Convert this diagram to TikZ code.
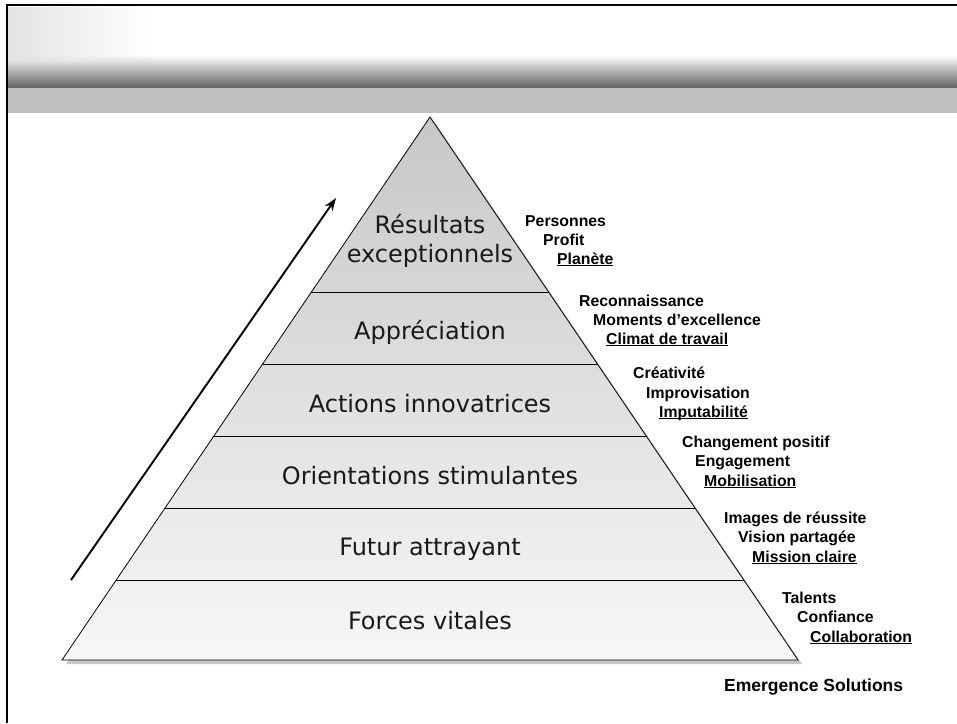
\documentclass[tikz,border=0pt]{standalone}
\usepackage{fontspec}
\setmainfont{DejaVu Sans}
\newfontfamily\arialfont{Liberation Sans}
\newcommand\ulword[1]{\setbox0\hbox{#1}\rlap{\rule[-2.4pt]{\wd0}{1.3pt}}\box0}
\usetikzlibrary{arrows.meta, shadows, fadings}
\tikzset{
	level/.style={font=\fontsize{24}{28.5}\selectfont, align=center, text=black!90, inner sep=0pt},
	word/.style={font=\arialfont\bfseries\fontsize{15.8}{18}\selectfont, anchor=base west, inner sep=0pt},
	layer/.style={draw, line width=0.8pt},
	every edge/.style={draw,-{Stealth[length=4.5mm,width=3.2mm]},line width=1.9pt}
}

\begin{document}
\begin{tikzpicture}[x=1pt,y=-1pt]
\useasboundingbox (0,0) rectangle (957,723);
% header
\shade[top color=white, bottom color=black!62] (7,55) rectangle (957,88);
\fill[black!11, path fading=east] (7,7) rectangle (150,62);
\fill[black!25] (7,88) rectangle (957,113);
\draw[line width=2.5pt] (7,723) -- (7,5) -- (957,5);
% pyramid
\coordinate (apex) at (430,117);
\coordinate (bl) at (62,660);
\coordinate (br) at (798,660);
\path[drop shadow={shadow xshift=4pt, shadow yshift=-4pt, opacity=0.45}, top color=black!22, bottom color=black!3]
  (apex) -- (br) -- (bl) -- cycle;
\draw[line width=0.8pt] (apex) -- (br) -- (bl) -- cycle;
\draw[layer] (311.4,292) -- (548.6,292);
\draw[layer] (262.6,364) -- (597.4,364);
\draw[layer] (213.8,436) -- (646.2,436);
\draw[layer] (165.0,508) -- (695.0,508);
\draw[layer] (116.2,580) -- (743.8,580);
% levels
\node (res) [level] at (430,241) {Résultats\\exceptionnels};
\node (app) [level] at (430,332) {Appréciation};
\node (act) [level] at (430,404) {Actions innovatrices};
\node (ori) [level] at (430,476) {Orientations stimulantes};
\node (fut) [level] at (430,549) {Futur attrayant};
\node (for) [level] at (430,621) {Forces vitales};
% arrow
\coordinate (low) at (71,580);
\coordinate (high) at (336,198);
\path (low) edge (high);
% words
\node (pers) [word] at (525,226) {Personnes};
\node (prof) [word] at (543,245) {Profit};
\node (plan) [word] at (557,264) {\ulword{Planète}};
\node (reco) [word] at (579,306) {Reconnaissance};
\node (mome) [word] at (593,325) {Moments d’excellence};
\node (clim) [word] at (606,344) {\ulword{Climat de travail}};
\node (crea) [word] at (633,378) {Créativité};
\node (impr) [word] at (646,398) {Improvisation};
\node (impu) [word] at (659,417) {\ulword{Imputabilité}};
\node (chan) [word] at (682,447) {Changement positif};
\node (enga) [word] at (695,466) {Engagement};
\node (mobi) [word] at (704,486) {\ulword{Mobilisation}};
\node (imag) [word] at (724,523) {Images de réussite};
\node (visi) [word] at (738,542) {Vision partagée};
\node (miss) [word] at (752,562) {\ulword{Mission claire}};
\node (tale) [word] at (782,603) {Talents};
\node (conf) [word] at (797,622) {Confiance};
\node (coll) [word] at (810,642) {\ulword{Collaboration}};
\node (emer) [word, font=\arialfont\bfseries\fontsize{17.5}{20}\selectfont] at (724,691) {Emergence Solutions};
\end{tikzpicture}
\end{document}
